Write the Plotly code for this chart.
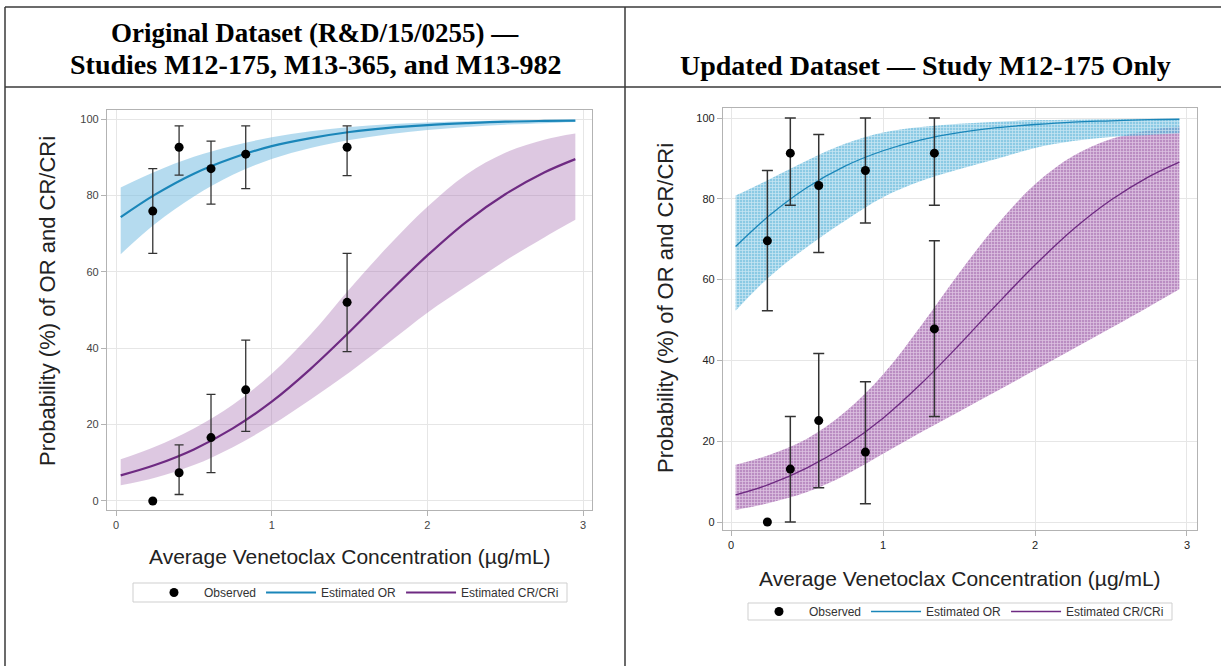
import plotly.graph_objects as go

W, H = 1221, 666

# ---------------- data ----------------
XG = [0.03, 0.25, 0.5, 0.75, 1.0, 1.25, 1.5, 1.75, 2.0, 2.25, 2.5, 2.75, 2.95]

# Left panel: Original dataset
or_est_L = [74.3, 80.2, 85.7, 89.8, 92.9, 95.0, 96.6, 97.7, 98.4, 98.9, 99.3, 99.5, 99.6]
or_hi_L = [82.1, 86.2, 90.1, 93.0, 95.2, 96.8, 97.9, 98.6, 99.1, 99.4, 99.6, 99.76, 99.83]
or_lo_L = [64.6, 72.5, 79.7, 85.4, 89.5, 92.4, 94.5, 96.0, 97.1, 97.9, 98.5, 98.9, 99.2]
cr_est_L = [6.7, 9.4, 13.5, 19.0, 26.0, 34.6, 44.3, 54.5, 64.3, 73.1, 80.3, 86.0, 89.5]
cr_hi_L = [10.9, 14.2, 19.0, 25.2, 33.3, 43.6, 55.5, 66.8, 77.0, 85.5, 91.2, 94.6, 96.2]
cr_lo_L = [4.1, 6.1, 9.4, 14.1, 19.9, 26.6, 33.7, 41.4, 49.3, 56.2, 62.9, 69.0, 73.6]

obs_x_L = [0.236, 0.405, 0.61, 0.833, 1.484]
obs_or_L = [75.9, 92.6, 87.0, 90.8, 92.6]
obs_or_lo_L = [64.8, 85.3, 77.7, 81.8, 85.2]
obs_or_hi_L = [87.0, 98.2, 94.2, 98.2, 98.2]
obs_cr_L = [0.0, 7.4, 16.6, 29.1, 52.0]
obs_cr_lo_L = [None, 1.7, 7.4, 18.2, 39.1]
obs_cr_hi_L = [None, 14.7, 27.9, 42.1, 64.8]

# Right panel: Updated dataset
or_est_R = [68.2, 75.8, 82.8, 88.1, 91.9, 94.6, 96.4, 97.6, 98.4, 99.0, 99.3, 99.6, 99.7]
or_hi_R = [80.8, 84.8, 89.5, 93.6, 96.4, 97.8, 98.6, 99.1, 99.5, 99.6, 99.7, 99.8, 99.9]
or_lo_R = [52.3, 60.6, 68.1, 74.6, 80.4, 84.4, 87.3, 89.9, 92.6, 94.3, 95.3, 95.8, 96.2]
cr_est_R = [6.7, 9.3, 13.4, 18.8, 25.7, 34.2, 43.8, 53.9, 63.6, 72.4, 79.7, 85.5, 89.1]
cr_hi_R = [14.2, 16.6, 20.6, 27.2, 36.5, 48.6, 61.6, 73.6, 83.6, 90.6, 94.8, 97.0, 97.9]
cr_lo_R = [3.0, 4.7, 7.4, 11.6, 16.9, 22.2, 27.3, 32.4, 37.6, 42.8, 48.0, 53.3, 57.6]

obs_x_R = [0.239, 0.39, 0.577, 0.884, 1.338]
obs_or_R = [69.6, 91.3, 83.3, 87.0, 91.3]
obs_or_lo_R = [52.3, 78.4, 66.7, 74.0, 78.4]
obs_or_hi_R = [87.0, 100.0, 95.9, 100.0, 100.0]
obs_cr_R = [0.0, 13.1, 25.1, 17.3, 47.8]
obs_cr_lo_R = [None, 0.0, 8.5, 4.5, 26.1]
obs_cr_hi_R = [None, 26.1, 41.7, 34.7, 69.6]

TITLE_L1 = "Original Dataset (R&amp;D/15/0255) —"
TITLE_L2 = "Studies M12-175, M13-365, and M13-982"
TITLE_R = "Updated Dataset — Study M12-175 Only"
X_TITLE = "Average Venetoclax Concentration (µg/mL)"
Y_TITLE = "Probability (%) of OR and CR/CRi"
TICKS_X = [0, 1, 2, 3]
TICKS_Y = [0, 20, 40, 60, 80, 100]

# ---------------- styling ----------------
OR_LINE = "#1a86b9"
CR_LINE = "#6e2a82"
SANS = "Liberation Sans, Arial, sans-serif"
SERIF = "Liberation Serif, Times New Roman, serif"


def px(x):
    return x / W


def py(y):
    return 1 - y / H


fig = go.Figure()


def band(xa, ya, leg, lo, hi, color=None, pattern=None):
    fig.add_trace(go.Scatter(x=XG, y=lo, mode="lines", line=dict(width=0, shape="spline"),
                             xaxis=xa, yaxis=ya, legend=leg, showlegend=False, hoverinfo="skip"))
    kw = dict(x=XG, y=hi, mode="lines", line=dict(width=0, shape="spline"),
              fill="tonexty", xaxis=xa, yaxis=ya, legend=leg, showlegend=False, hoverinfo="skip")
    if pattern is not None:
        kw["fillpattern"] = pattern
        kw["fillcolor"] = pattern["bgcolor"]
    else:
        kw["fillcolor"] = color
    fig.add_trace(go.Scatter(**kw))


def observed(xa, ya, xs, ys, lo, hi, legend, show, msize, capw, ethick):
    ex = [x for x, l in zip(xs, lo) if l is not None]
    ey = [y for y, l in zip(ys, lo) if l is not None]
    el = [y - l for y, l in zip(ys, lo) if l is not None]
    eh = [h - y for y, h in zip(ys, hi) if h is not None]
    nx = [x for x, l in zip(xs, lo) if l is None]
    ny = [y for y, l in zip(ys, lo) if l is None]
    fig.add_trace(go.Scatter(
        x=ex, y=ey, mode="markers", name="Observed",
        marker=dict(color="black", size=msize),
        error_y=dict(type="data", array=eh, arrayminus=el, color="#333333",
                     thickness=ethick, width=capw),
        xaxis=xa, yaxis=ya, legend=legend, showlegend=show, legendrank=1))
    if nx:
        fig.add_trace(go.Scatter(x=nx, y=ny, mode="markers", marker=dict(color="black", size=msize),
                                 xaxis=xa, yaxis=ya, legend=legend, showlegend=False, hoverinfo="skip"))


# ----- left panel -----
band("x", "y", "legend", cr_lo_L, cr_hi_L, color="rgba(166,110,176,0.38)")
band("x", "y", "legend", or_lo_L, or_hi_L, color="rgba(120,190,225,0.55)")
fig.add_trace(go.Scatter(x=XG, y=or_est_L, mode="lines", name="Estimated OR",
                         line=dict(color=OR_LINE, width=2.2, shape="spline"),
                         xaxis="x", yaxis="y", legend="legend", legendrank=2))
fig.add_trace(go.Scatter(x=XG, y=cr_est_L, mode="lines", name="Estimated CR/CRi",
                         line=dict(color=CR_LINE, width=2.2, shape="spline"),
                         xaxis="x", yaxis="y", legend="legend", legendrank=3))
observed("x", "y", obs_x_L, obs_or_L, obs_or_lo_L, obs_or_hi_L, "legend", True, 9, 4.5, 1.3)
observed("x", "y", obs_x_L, obs_cr_L, obs_cr_lo_L, obs_cr_hi_L, "legend", False, 9, 4.5, 1.3)

# ----- right panel -----
pat_cr = dict(shape="+", bgcolor="rgba(150,82,162,0.66)", fgcolor="rgba(255,245,255,0.55)",
              size=3, solidity=0.4, fillmode="replace")
pat_or = dict(shape="+", bgcolor="rgba(95,182,218,0.72)", fgcolor="rgba(255,255,255,0.55)",
              size=3, solidity=0.4, fillmode="replace")
band("x2", "y2", "legend2", cr_lo_R, cr_hi_R, pattern=pat_cr)
band("x2", "y2", "legend2", or_lo_R, or_hi_R, pattern=pat_or)
fig.add_trace(go.Scatter(x=XG, y=or_est_R, mode="lines", name="Estimated OR",
                         line=dict(color=OR_LINE, width=1.3, shape="spline"),
                         xaxis="x2", yaxis="y2", legend="legend2", legendrank=2))
fig.add_trace(go.Scatter(x=XG, y=cr_est_R, mode="lines", name="Estimated CR/CRi",
                         line=dict(color=CR_LINE, width=1.3, shape="spline"),
                         xaxis="x2", yaxis="y2", legend="legend2", legendrank=3))
observed("x2", "y2", obs_x_R, obs_or_R, obs_or_lo_R, obs_or_hi_R, "legend2", True, 9, 5.5, 1.5)
observed("x2", "y2", obs_x_R, obs_cr_R, obs_cr_lo_R, obs_cr_hi_R, "legend2", False, 9, 5.5, 1.5)

axis_common = dict(showgrid=True, gridcolor="#e6e6e6", gridwidth=1, zeroline=False,
                   showline=True, mirror=True, linecolor="#b3b3b3", linewidth=1.2,
                   ticks="outside", ticklen=5, tickcolor="#b3b3b3")

fig.update_layout(
    width=W, height=H, margin=dict(l=0, r=0, t=0, b=0),
    paper_bgcolor="white", plot_bgcolor="white",
    font=dict(family=SANS, color="#333"),
    xaxis=dict(domain=[px(107), px(592)], range=[-0.058, 3.057], tickvals=TICKS_X,
               anchor="y", tickfont=dict(size=11, color="#444"), **axis_common),
    yaxis=dict(domain=[py(510), py(110)], range=[-2.36, 102.36], tickvals=TICKS_Y,
               anchor="x", tickfont=dict(size=11, color="#444"), **axis_common),
    xaxis2=dict(domain=[px(723), px(1197)], range=[-0.053, 3.066], tickvals=TICKS_X,
                anchor="y2", tickfont=dict(size=11, color="#222"), **axis_common),
    yaxis2=dict(domain=[py(530), py(108)], range=[-1.98, 102.48], tickvals=TICKS_Y,
                anchor="x2", tickfont=dict(size=11, color="#222"), **axis_common),
    legend=dict(orientation="h", x=px(564), y=py(592.5), xanchor="right", yanchor="middle",
                bgcolor="rgba(0,0,0,0)", borderwidth=0, font=dict(size=12, color="#333"),
                itemwidth=50, traceorder="normal"),
    legend2=dict(orientation="h", x=px(1169), y=py(611.5), xanchor="right", yanchor="middle",
                 bgcolor="rgba(0,0,0,0)", borderwidth=0, font=dict(size=12, color="#333"),
                 itemwidth=50, traceorder="normal"),
    showlegend=True,
)

LC = "#3a3a3a"
shapes = [
    dict(type="line", xref="paper", yref="paper", x0=px(5), x1=1, y0=py(7), y1=py(7),
         line=dict(color=LC, width=1.5)),
    dict(type="line", xref="paper", yref="paper", x0=px(5), x1=1, y0=py(87), y1=py(87),
         line=dict(color=LC, width=1.5)),
    dict(type="line", xref="paper", yref="paper", x0=px(5), x1=px(5), y0=py(7), y1=0,
         line=dict(color=LC, width=1.5)),
    dict(type="line", xref="paper", yref="paper", x0=px(625), x1=px(625), y0=py(7), y1=0,
         line=dict(color=LC, width=1.5)),
    # legend boxes
    dict(type="rect", xref="paper", yref="paper", x0=px(133), x1=px(567), y0=py(602), y1=py(583),
         line=dict(color="#cfcfcf", width=1), fillcolor="rgba(0,0,0,0)", layer="below"),
    dict(type="rect", xref="paper", yref="paper", x0=px(748), x1=px(1172), y0=py(620), y1=py(603),
         line=dict(color="#cfcfcf", width=1), fillcolor="rgba(0,0,0,0)", layer="below"),
]
fig.update_layout(shapes=shapes)

ann = [
    dict(text="<b>" + TITLE_L1 + "</b>", x=px(315), y=py(33), font=dict(family=SERIF, size=27, color="black")),
    dict(text="<b>" + TITLE_L2 + "</b>", x=px(316), y=py(64), font=dict(family=SERIF, size=28, color="black")),
    dict(text="<b>" + TITLE_R + "</b>", x=px(926), y=py(66), font=dict(family=SERIF, size=28, color="black")),
    dict(text=X_TITLE, x=px(350), y=py(556), font=dict(family=SANS, size=21, color="#222")),
    dict(text=Y_TITLE, x=px(47), y=py(301), textangle=-90, font=dict(family=SANS, size=22, color="#222")),
    dict(text=X_TITLE, x=px(960), y=py(578), font=dict(family=SANS, size=21, color="#222")),
    dict(text=Y_TITLE, x=px(665), y=py(308), textangle=-90, font=dict(family=SANS, size=22, color="#222")),
]
for a in ann:
    a.update(xref="paper", yref="paper", showarrow=False, xanchor="center", yanchor="middle")
fig.update_layout(annotations=ann)

fig.write_html("out.html")
